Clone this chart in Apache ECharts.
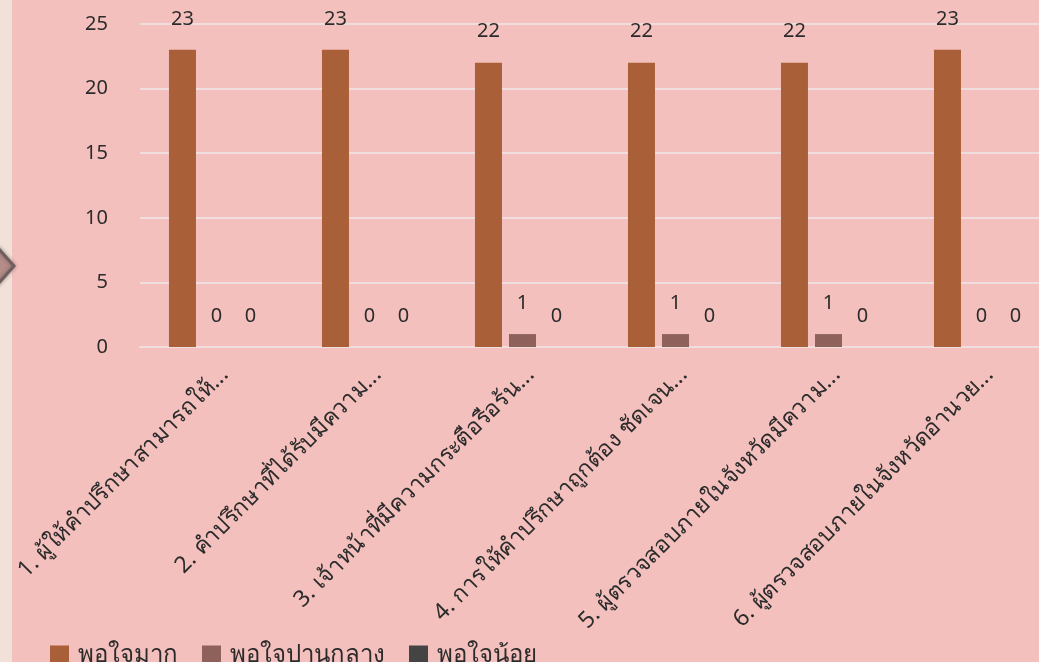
<!DOCTYPE html>
<html>
<head>
<meta charset="utf-8">
<script src="https://cdn.jsdelivr.net/npm/echarts@6/dist/echarts.min.js"></script>
<style>
html,body{margin:0;padding:0;background:#f4c0bd;overflow:hidden;}
#c{width:1070px;height:662px;}
</style>
</head>
<body>
<div id="c"></div>
<script>
const categories = [
  "1. ผู้ให้คำปรึกษาสามารถให้...",
  "2. คำปรึกษาที่ได้รับมีความ...",
  "3. เจ้าหน้าที่มีความกระตือรือร้น...",
  "4. การให้คำปรึกษาถูกต้อง ชัดเจน...",
  "5. ผู้ตรวจสอบภายในจังหวัดมีความ...",
  "6. ผู้ตรวจสอบภายในจังหวัดอำนวย..."
];
const seriesNames = ["พอใจมาก", "พอใจปานกลาง", "พอใจน้อย"];
const veryHigh = [23, 23, 22, 22, 22, 23];
const medium = [0, 0, 1, 1, 1, 0];
const low = [0, 0, 0, 0, 0, 0];
const colors = ["#a95f37", "#8e625a", "#444444"];

const font = "'Noto Sans', 'DejaVu Sans', sans-serif";
const chart = echarts.init(document.getElementById('c'), null, {renderer: 'canvas'});
function mkSeries(name, data, color) {
  return {
    name: name, type: 'bar', data: data,
    barWidth: 27, barGap: '26%', barCategoryGap: '38%',
    itemStyle: {color: color},
    label: {show: true, position: 'top', distance: 21, color: '#2b2b2b', fontSize: 20, fontFamily: font},
    emphasis: {disabled: true}
  };
}
chart.setOption({
  backgroundColor: '#f4c0bd',
  animation: false,
  color: colors,
  graphic: [
    {type: 'rect', shape: {x: 0, y: 0, width: 12, height: 662}, style: {fill: '#f1e1d9'}, z: 0},
    {type: 'polygon', shape: {points: [[-20, 266], [-2, 248], [14, 266], [-2, 284]]},
     style: {fill: '#b48c88', stroke: '#6e5f5e', lineWidth: 3, shadowBlur: 4, shadowColor: 'rgba(0,0,0,0.3)'}, z: 10}
  ],
  grid: {left: 140, top: 24, width: 918, height: 323, containLabel: false},
  legend: {
    left: 45, top: 638, itemWidth: 19, itemHeight: 19, itemGap: 24, icon: 'rect',
    textStyle: {fontSize: 24, color: '#2b2b2b', fontFamily: font, padding: [0, 0, 0, 4]},
    data: seriesNames
  },
  xAxis: {
    type: 'category', data: categories,
    axisLine: {show: true, lineStyle: {color: '#f0dede', width: 2}},
    axisTick: {show: false},
    axisLabel: {rotate: 45, interval: 0, fontSize: 23, color: '#2b2b2b', fontFamily: font, margin: 16, verticalAlign: 'top'}
  },
  yAxis: {
    type: 'value', min: 0, max: 25, interval: 5,
    axisLine: {show: false}, axisTick: {show: false},
    splitLine: {lineStyle: {color: '#f0dede', width: 2}},
    axisLabel: {fontSize: 20, color: '#2b2b2b', fontFamily: font, margin: 32}
  },
  series: [
    mkSeries(seriesNames[0], veryHigh, colors[0]),
    mkSeries(seriesNames[1], medium, colors[1]),
    mkSeries(seriesNames[2], low, colors[2])
  ]
});
</script>
</body>
</html>
